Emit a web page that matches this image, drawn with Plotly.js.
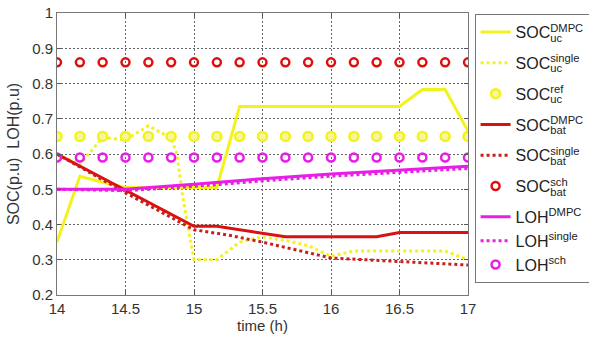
<!DOCTYPE html>
<html>
<head>
<meta charset="utf-8">
<script src="https://cdn.plot.ly/plotly-3.0.1.min.js"></script>
<style>
  html, body { margin: 0; padding: 0; background: #fff; }
  #chart { width: 589px; height: 339px; }
</style>
</head>
<body>
<div id="chart"></div>
<script>
// Scheduled / reference profiles, sampled every 10 minutes
const tSched = [14, 14.167, 14.333, 14.5, 14.667, 14.833, 15, 15.167, 15.333, 15.5,
                15.667, 15.833, 16, 16.167, 16.333, 16.5, 16.667, 16.833, 17];
const socBatSch = [0.86, 0.86, 0.86, 0.86, 0.86, 0.86, 0.86, 0.86, 0.86, 0.86,
                   0.86, 0.86, 0.86, 0.86, 0.86, 0.86, 0.86, 0.86, 0.86];
const socUcRef  = [0.65, 0.65, 0.65, 0.65, 0.65, 0.65, 0.65, 0.65, 0.65, 0.65,
                   0.65, 0.65, 0.65, 0.65, 0.65, 0.65, 0.65, 0.65, 0.65];
const lohSch    = [0.59, 0.59, 0.59, 0.59, 0.59, 0.59, 0.59, 0.59, 0.59, 0.59,
                   0.59, 0.59, 0.59, 0.59, 0.59, 0.59, 0.59, 0.59, 0.59];

// Ultracapacitor SOC, distributed MPC
const tUcDmpc   = [14, 14.167, 14.333, 14.5, 14.667, 14.833, 15, 15.167, 15.333, 15.5,
                   15.667, 15.833, 16, 16.167, 16.333, 16.5, 16.667, 16.833, 17];
const socUcDmpc = [0.35, 0.537, 0.52, 0.505, 0.505, 0.505, 0.505, 0.505, 0.735, 0.735,
                   0.735, 0.735, 0.735, 0.735, 0.735, 0.735, 0.783, 0.783, 0.665];

// Ultracapacitor SOC, single controller
const tUcSingle   = [14, 14.167, 14.333, 14.5, 14.667, 14.833, 14.875, 14.917, 15, 15.167,
                     15.333, 15.5, 15.667, 15.833, 16, 16.167, 16.333, 16.5, 16.667, 16.833, 17];
const socUcSingle = [0.6, 0.57, 0.647, 0.64, 0.68, 0.645, 0.6, 0.48, 0.30, 0.30,
                     0.35, 0.365, 0.355, 0.34, 0.31, 0.325, 0.325, 0.325, 0.325, 0.325, 0.30];

// Battery SOC, distributed MPC
const tBatDmpc   = [14, 15, 15.167, 15.333, 15.5, 15.667, 16, 16.333, 16.5, 17];
const socBatDmpc = [0.6, 0.395, 0.395, 0.385, 0.375, 0.365, 0.365, 0.365, 0.377, 0.377];

// Battery SOC, single controller
const tBatSingle   = [14, 14.5, 15, 15.25, 15.5, 16, 16.5, 17];
const socBatSingle = [0.6, 0.49, 0.385, 0.37, 0.35, 0.305, 0.295, 0.285];

// Level of hydrogen
const tLoh      = [14, 14.5, 15, 15.5, 16, 16.5, 17];
const lohDmpc   = [0.5, 0.5, 0.514, 0.53, 0.543, 0.553, 0.565];
const lohSingle = [0.5, 0.496, 0.508, 0.524, 0.537, 0.547, 0.559];

const xTicks = [14, 14.5, 15, 15.5, 16, 16.5, 17];
const yTicks = [0.2, 0.3, 0.4, 0.5, 0.6, 0.7, 0.8, 0.9, 1];

const FONT = 'Liberation Sans, Arial, sans-serif';
const LEGEND_SIZE = 16;

// Stack a superscript above a subscript: pull the pen back by the
// superscript's own width so the subscript starts under it.
const ctx = document.createElement('canvas').getContext('2d');
function stacked(base, sup, sub) {
  if (!sub) return base + '<sup>' + sup + '</sup>';
  const supSize = LEGEND_SIZE * 0.7;
  ctx.font = supSize + 'px ' + FONT;
  const w = ctx.measureText(sup).width;
  const head = sup.slice(0, -1);
  const last = sup.slice(-1);
  return base + '<sup>' + head +
    '<span style="letter-spacing:-' + w.toFixed(2) + 'px">' + last + '</span></sup>' +
    '<sub>' + sub + '</sub>';
}

const YEL = '#f3f31c', RED = '#dc1010', REDD = '#c81e1e', MAG = '#e81ee8';

const traces = [
  { x: tUcDmpc, y: socUcDmpc, mode: 'lines', name: stacked('SOC', 'DMPC', 'uc'),
    legendgroup: 'a', line: { color: YEL, width: 3 } },
  { x: tUcSingle, y: socUcSingle, mode: 'lines', name: stacked('SOC', 'single', 'uc'),
    legendgroup: 'b', line: { color: YEL, width: 3, dash: '3px,3px' } },
  { x: tSched, y: socUcRef, mode: 'markers', name: stacked('SOC', 'ref', 'uc'),
    legendgroup: 'c',
    marker: { symbol: 'circle', size: 9, color: '#f6f6a0', line: { color: YEL, width: 2.5 } } },
  { x: tBatDmpc, y: socBatDmpc, mode: 'lines', name: stacked('SOC', 'DMPC', 'bat'),
    legendgroup: 'd', line: { color: RED, width: 3 } },
  { x: tBatSingle, y: socBatSingle, mode: 'lines', name: stacked('SOC', 'single', 'bat'),
    legendgroup: 'e', line: { color: REDD, width: 3, dash: '3px,3px' } },
  { x: tSched, y: socBatSch, mode: 'markers', name: stacked('SOC', 'sch', 'bat'),
    legendgroup: 'f',
    marker: { symbol: 'circle-open', size: 8, color: RED, line: { color: RED, width: 2.5 } } },
  { x: tLoh, y: lohDmpc, mode: 'lines', name: stacked('LOH', 'DMPC'),
    legendgroup: 'loh', line: { color: MAG, width: 3 } },
  { x: tLoh, y: lohSingle, mode: 'lines', name: stacked('LOH', 'single'),
    legendgroup: 'loh', line: { color: MAG, width: 3, dash: '3px,3px' } },
  { x: tSched, y: lohSch, mode: 'markers', name: stacked('LOH', 'sch'),
    legendgroup: 'loh',
    marker: { symbol: 'circle-open', size: 8, color: MAG, line: { color: MAG, width: 2.5 } } }
];

const axisCommon = {
  showline: true, linecolor: '#777', linewidth: 1, mirror: 'ticks',
  ticks: 'inside', ticklen: 4, tickcolor: '#555',
  showgrid: true, gridcolor: '#666', gridwidth: 1, griddash: '2px,2px',
  zeroline: false,
  tickfont: { family: FONT, size: 15, color: '#333' }
};

const layout = {
  width: 589, height: 339,
  margin: { l: 57, r: 121, t: 13, b: 44, autoexpand: false },
  paper_bgcolor: '#fff', plot_bgcolor: '#fff',
  showlegend: true,
  legend: {
    x: 1.016, y: 0.996, xanchor: 'left', yanchor: 'top',
    bgcolor: '#fff', bordercolor: '#777', borderwidth: 1,
    font: { family: FONT, size: LEGEND_SIZE, color: '#222' },
    tracegroupgap: 7
  },
  xaxis: Object.assign({}, axisCommon, {
    range: [14, 17], tickvals: xTicks, ticktext: xTicks.map(String),
    title: { text: 'time (h)', font: { family: FONT, size: 15, color: '#333' }, standoff: 4 }
  }),
  yaxis: Object.assign({}, axisCommon, {
    range: [0.2, 1], tickvals: yTicks, ticktext: yTicks.map(String),
    title: { text: 'SOC(p.u)\u00a0\u00a0LOH(p.u)', font: { family: FONT, size: 16, color: '#333' }, standoff: 8 }
  })
};

Plotly.newPlot('chart', traces, layout, { staticPlot: true, displayModeBar: false });
</script>
</body>
</html>
